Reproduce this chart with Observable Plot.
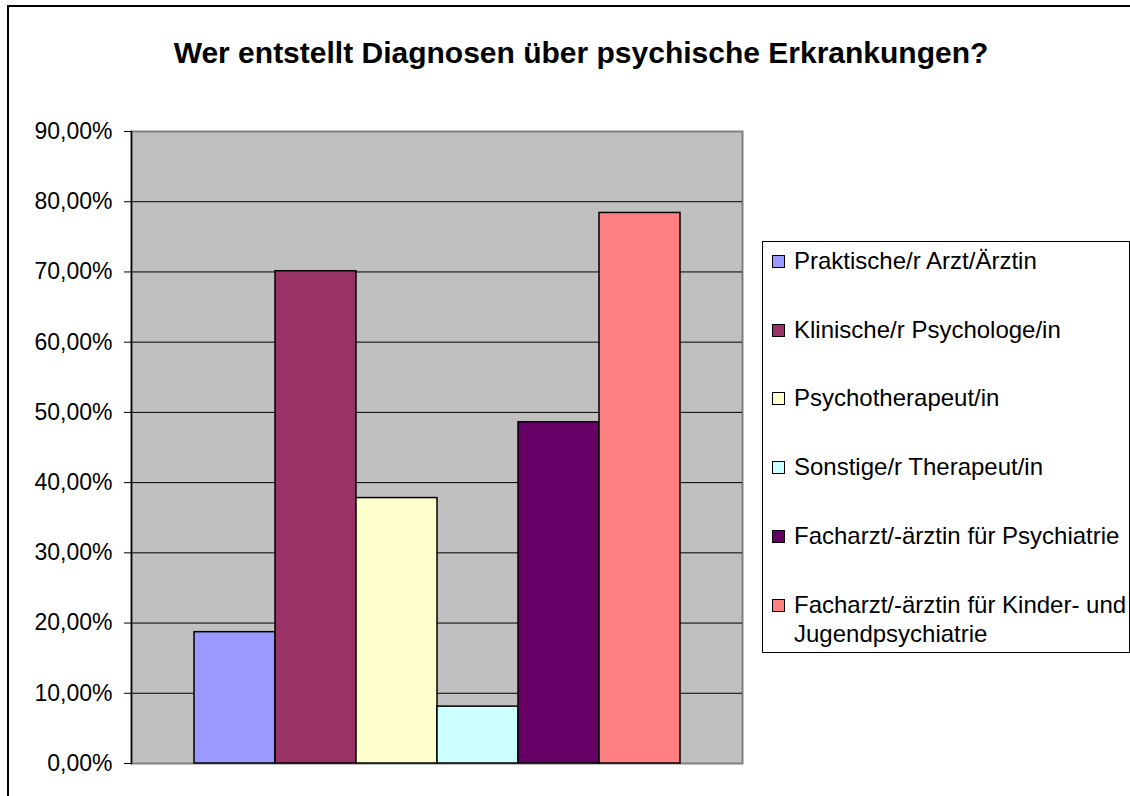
<!DOCTYPE html>
<html>
<head>
<meta charset="utf-8">
<script src="https://cdn.jsdelivr.net/npm/d3@7"></script>
<script src="https://cdn.jsdelivr.net/npm/@observablehq/plot@0.6"></script>
<style>
  html, body { margin: 0; padding: 0; background: #fff; }
  #chart { position: relative; width: 1130px; height: 796px; overflow: hidden; background: #fff; font-family: "Liberation Sans", Arial, sans-serif; }
  #frame { position: absolute; left: 7px; top: 5px; right: -10px; bottom: -10px; border-left: 2px solid #000; border-top: 2px solid #000; }
  #title { position: absolute; left: 0; top: 38px; width: 1162px; text-align: center; font-weight: bold; font-size: 30px; line-height: 30px; color: #000; }
  #plot { position: absolute; left: 0; top: 0; }
  #legend { position: absolute; left: 762px; top: 241px; width: 366px; height: 410px; border: 1px solid #000; background: #fff; }
  .item { position: absolute; left: 0; font-size: 24px; line-height: 29px; color: #000; }
  .sw { position: absolute; left: 9px; top: 9px; width: 11px; height: 11px; border: 1.5px solid #000; }
  .lab { position: absolute; left: 31px; top: 0; white-space: nowrap; }
</style>
</head>
<body>
<div id="chart">
  <div id="frame"></div>
  <div id="title"></div>
  <div id="plot"></div>
  <div id="legend"></div>
</div>
<script>
const title = "Wer entstellt Diagnosen über psychische Erkrankungen?";
const categories = [
  "Praktische/r Arzt/Ärztin",
  "Klinische/r Psychologe/in",
  "Psychotherapeut/in",
  "Sonstige/r Therapeut/in",
  "Facharzt/-ärztin für Psychiatrie",
  "Facharzt/-ärztin für Kinder- und Jugendpsychiatrie"
];
const legendLines = [
  ["Praktische/r Arzt/Ärztin"],
  ["Klinische/r Psychologe/in"],
  ["Psychotherapeut/in"],
  ["Sonstige/r Therapeut/in"],
  ["Facharzt/-ärztin für Psychiatrie"],
  ["Facharzt/-ärztin für Kinder- und", "Jugendpsychiatrie"]
];
const values = [0.187, 0.701, 0.378, 0.081, 0.486, 0.784];
const colors = ["#9999FF", "#993366", "#FFFFCC", "#CCFFFF", "#660066", "#FF8080"];
const yTicks = [0, 0.1, 0.2, 0.3, 0.4, 0.5, 0.6, 0.7, 0.8, 0.9];

const data = categories.map((c, i) => ({cat: c, value: values[i]}));
const fmt = d => (d * 100).toFixed(2).replace(".", ",") + "%";

document.getElementById("title").textContent = title;

const chart = Plot.plot({
  width: 750,
  height: 780,
  marginLeft: 131,
  marginRight: 8,
  marginTop: 131,
  marginBottom: 17,
  style: {fontFamily: "'Liberation Sans', Arial, sans-serif", fontSize: "23px", color: "#000", background: "transparent"},
  x: {type: "band", domain: categories, paddingInner: 0, paddingOuter: 0.75, axis: null},
  y: {domain: [0, 0.9], axis: null},
  color: {domain: categories, range: colors},
  marks: [
    Plot.frame({fill: "#C0C0C0", stroke: "#808080", strokeWidth: 2}),
    Plot.ruleY(yTicks.slice(1, -1), {stroke: "#000", strokeWidth: 1}),
    Plot.barY(data, {x: "cat", y: "value", fill: "cat", stroke: "#000", strokeWidth: 1.5}),
    Plot.frame({anchor: "left", stroke: "#000", strokeWidth: 1.5}),
    Plot.axisY({ticks: yTicks, tickFormat: fmt, tickSize: 7, tickPadding: 12, stroke: "#000", fontSize: 23, label: null})
  ]
});
document.getElementById("plot").appendChild(chart);

const legend = document.getElementById("legend");
legendLines.forEach((lines, i) => {
  const item = document.createElement("div");
  item.className = "item";
  item.style.top = (4 + 68.7 * i) + "px";
  const sw = document.createElement("div");
  sw.className = "sw";
  sw.style.background = colors[i];
  const lab = document.createElement("div");
  lab.className = "lab";
  lab.innerHTML = lines.map(l => l.replace(/&/g, "&amp;").replace(/</g, "&lt;")).join("<br>");
  item.appendChild(sw);
  item.appendChild(lab);
  legend.appendChild(item);
});
</script>
</body>
</html>
